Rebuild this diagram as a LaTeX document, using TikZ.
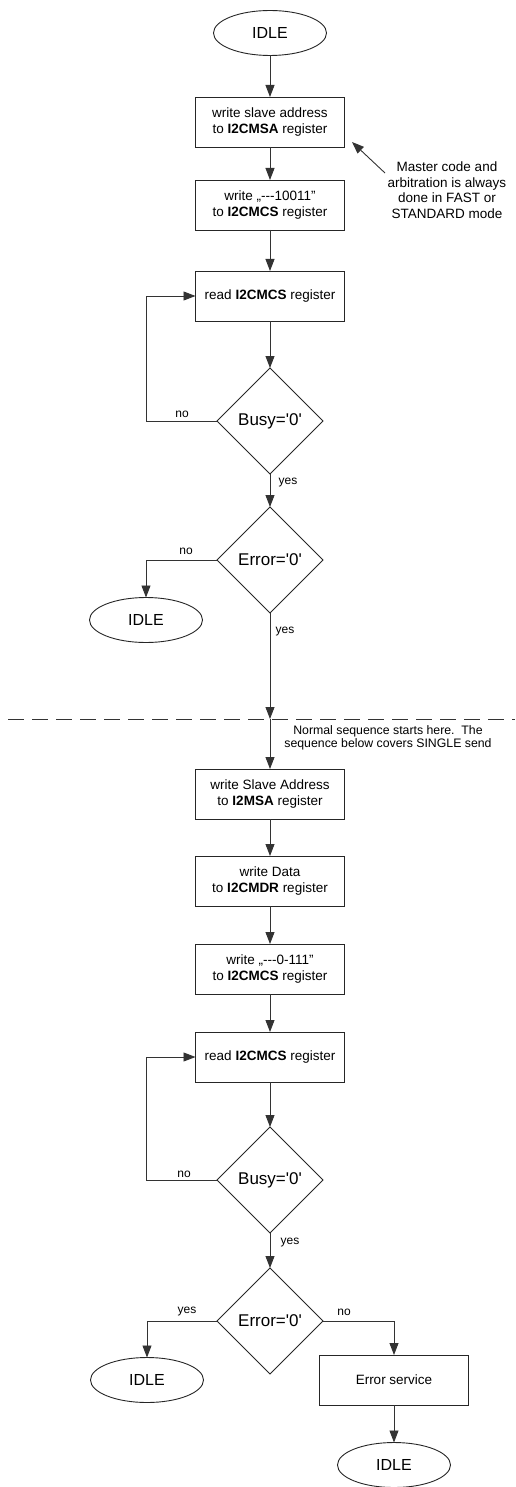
\documentclass[tikz,border=0pt]{standalone}
\usepackage{fontspec}
\setmainfont{Liberation Sans}[Ligatures=TeXOff]
\usetikzlibrary{arrows.meta,shapes.geometric}
\begin{document}
\begin{tikzpicture}[x=1pt,y=-1pt,
  line width=0.9pt,
  every node/.style={inner sep=0pt, outer sep=0pt},
  procbox/.style={draw=black!85, rectangle, minimum width=149pt, minimum height=50pt, align=center, font=\fontsize{13.5}{16}\selectfont},
  termnode/.style={draw=black!85, ellipse, minimum width=113pt, minimum height=45pt, font=\fontsize{16}{18}\selectfont},
  decision/.style={draw=black!85, diamond, aspect=1, minimum width=106pt, minimum height=106pt, font=\fontsize{17}{19}\selectfont},
  arr/.style={draw=black!80, -{Triangle[length=12pt,width=9pt]}},
  lbl/.style={font=\fontsize{12}{14}\selectfont},
  note/.style={align=center, font=\fontsize{13.5}{15.5}\selectfont},
  sepline/.style={draw=black!80, dash pattern=on 16pt off 8pt},
  ]
\useasboundingbox (0,0) rectangle (515,1487);

% nodes
\node[termnode] (idle1) at (270,33) {IDLE};
\node[procbox] (b1) at (270,122) {write slave address\\to \textbf{I2CMSA} register};
\node[procbox] (b2) at (270,205) {write „---10011”\\to \textbf{I2CMCS} register};
\node[procbox] (b3) at (270,296) {read \textbf{I2CMCS} register};
\node[decision] (d1) at (270,421) {Busy=\textquotesingle 0\textquotesingle};
\node[decision] (d2) at (270,560) {Error=\textquotesingle 0\textquotesingle};
\node[termnode] (idle2) at (146,620) {IDLE};
\coordinate (sep) at (270,719);
\node[procbox] (b4) at (270,794) {write Slave Address\\to \textbf{I2MSA} register};
\node[procbox] (b5) at (270,881) {write Data\\to \textbf{I2CMDR} register};
\node[procbox] (b6) at (270,969) {write „---0-111”\\to \textbf{I2CMCS} register};
\node[procbox] (b7) at (270,1057) {read \textbf{I2CMCS} register};
\node[decision] (d3) at (270,1180) {Busy=\textquotesingle 0\textquotesingle};
\node[decision] (d4) at (270,1321) {Error=\textquotesingle 0\textquotesingle};
\node[termnode] (idle3) at (147,1380) {IDLE};
\node[procbox] (b8) at (394,1380) {Error service};
\node[termnode] (idle4) at (394,1465) {IDLE};

% annotation
\node[note] (anno) at (447,190) {Master code and\\arbitration is always\\done in FAST or\\STANDARD mode};
\coordinate (annotail) at (385,173);
\coordinate (annotip) at (352,142);
\draw[arr] (annotail) -- (annotip);

% separator
\coordinate (sepl) at (8,719);
\coordinate (sepr) at (515,719);
\draw[sepline] (sepl) -- (sepr);
\node[lbl, align=center, font=\fontsize{12.3}{13}\selectfont] (septext) at (388,738) {Normal sequence starts here.\ \ The\\sequence below covers SINGLE send};

% connectors, upper part
\draw[arr] (idle1) -- (b1);
\draw[arr] (b1) -- (b2);
\draw[arr] (b2) -- (b3);
\draw[arr] (b3) -- (d1);
\coordinate (lp1) at (146,421);
\draw[arr] (d1.west) -- (lp1) |- (b3.west);
\node[lbl] (no1) at (182,414) {no};
\draw[arr] (d1) -- (d2);
\node[lbl] (yes1) at (288,483) {yes};
\draw[arr] (d2.west) -| (idle2.north);
\node[lbl] (no2) at (186,551) {no};
\node[lbl] (yes2) at (285,632) {yes};
\draw[arr] (d2) -- (sep);
\draw[arr] (sep) -- (b4);

% connectors, lower part
\draw[arr] (b4) -- (b5);
\draw[arr] (b5) -- (b6);
\draw[arr] (b6) -- (b7);
\draw[arr] (b7) -- (d3);
\coordinate (lp2) at (146,1180);
\draw[arr] (d3.west) -- (lp2) |- (b7.west);
\node[lbl] (no3) at (184,1174) {no};
\draw[arr] (d3) -- (d4);
\node[lbl] (yes3) at (290,1243) {yes};
\draw[arr] (d4.west) -| (idle3.north);
\node[lbl] (yes4) at (187,1312) {yes};
\draw[arr] (d4.east) -| (b8.north);
\node[lbl] (no4) at (344,1312) {no};
\draw[arr] (b8) -- (idle4);
\end{tikzpicture}
\end{document}
